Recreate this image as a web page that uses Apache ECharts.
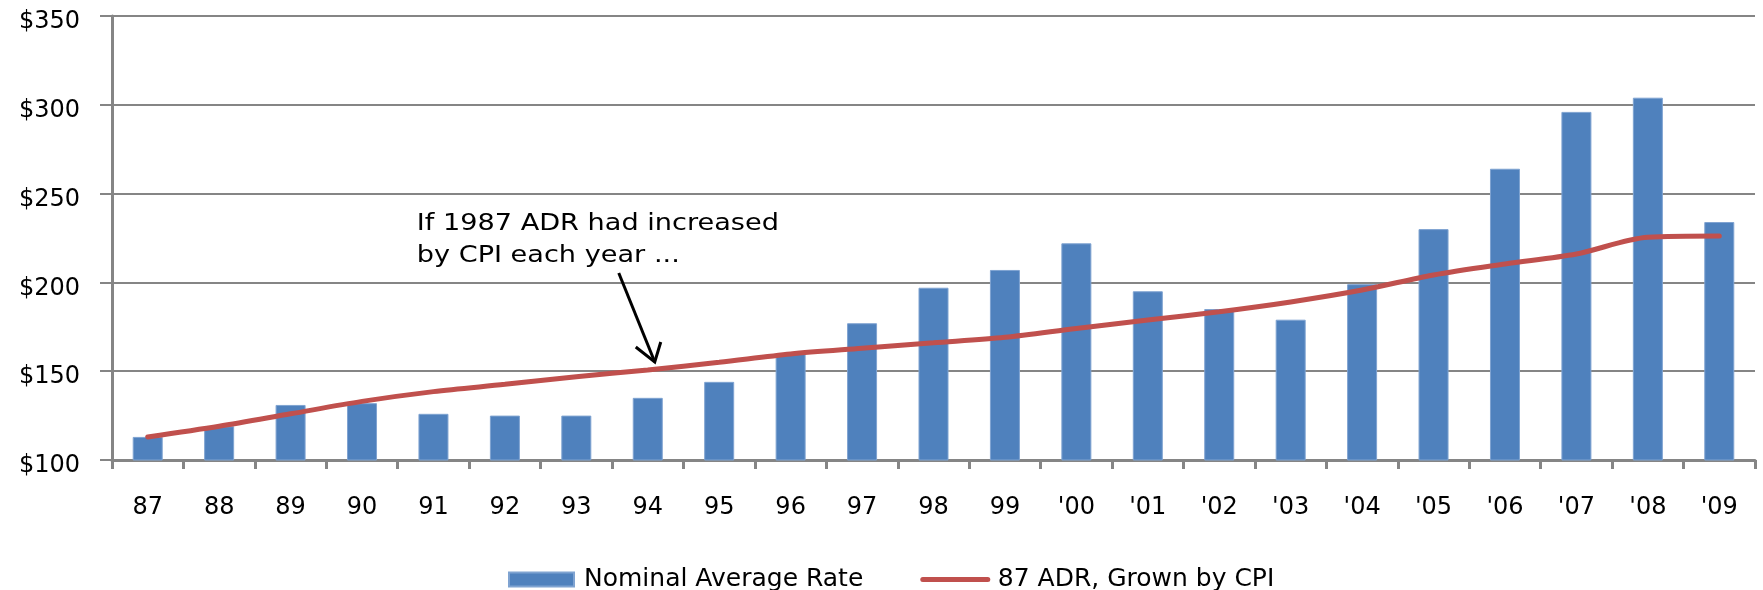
<!DOCTYPE html>
<html>
<head>
<meta charset="utf-8">
<title>Nominal Average Rate vs 87 ADR Grown by CPI</title>
<script src="https://cdn.jsdelivr.net/npm/echarts@6/dist/echarts.min.js"></script>
<style>
  html, body { margin: 0; padding: 0; background: #fff; }
  #chart { width: 1763px; height: 590px; }
</style>
</head>
<body>
<div id="chart"></div>
<script>
// Years on the category axis
const categories = ['87', '88', '89', '90', '91', '92', '93', '94', '95', '96', '97', '98', '99',
  "'00", "'01", "'02", "'03", "'04", "'05", "'06", "'07", "'08", "'09"];

// Nominal average daily rate, dollars
const nominalRate = [113, 119, 131, 132, 126, 125, 125, 135, 144, 160, 177, 197, 207,
  222, 195, 185, 179, 199, 230, 264, 296, 304, 234];

// 1987 ADR grown each year by CPI, dollars
const adrByCpi = [113, 119, 126, 133, 138.5, 142.6, 146.9, 150.7, 155, 159.7, 162.9, 166, 169.1,
  174.1, 178.8, 183.5, 189, 195.7, 204.2, 210.4, 216, 225.4, 226.1];

// Y axis range and step
const yMin = 100, yMax = 350, yStep = 50;

// Callout text and the year it points at
const calloutLines = ['If 1987 ADR had increased', 'by CPI each year ...'];
const calloutYear = '94';

const axisGrey = '#858585';
const font = 'DejaVu Sans';
const barBlue = '#4F81BD';
const lineRed = '#C0504D';

const chart = echarts.init(document.getElementById('chart'));

chart.setOption({
  animation: false,
  backgroundColor: '#ffffff',
  grid: { left: 112, right: 8, top: 16, bottom: 130, containLabel: false },
  legend: {
    left: 503,
    top: 562,
    itemWidth: 65,
    itemHeight: 14,
    itemGap: 57,
    textStyle: { fontFamily: font, fontSize: 25, color: '#000', padding: [0, 0, 0, 5] },
    data: [
      { name: 'Nominal Average Rate', icon: 'rect' },
      {
        name: '87 ADR, Grown by CPI',
        itemStyle: { opacity: 0 },
        lineStyle: { color: lineRed, width: 5, cap: 'round' }
      }
    ]
  },
  xAxis: {
    type: 'category',
    data: categories,
    boundaryGap: true,
    axisLine: { show: true, lineStyle: { color: axisGrey, width: 3 } },
    axisTick: { show: true, length: 9, lineStyle: { color: axisGrey, width: 3 } },
    axisLabel: { margin: 36, fontFamily: font, fontSize: 24, color: '#000' },
    splitLine: { show: false }
  },
  yAxis: {
    type: 'value',
    min: yMin,
    max: yMax,
    interval: yStep,
    axisLine: { show: true, lineStyle: { color: axisGrey, width: 3 } },
    axisTick: { show: true, length: 12, lineStyle: { color: axisGrey, width: 2 } },
    axisLabel: {
      margin: 32,
      fontFamily: font,
      fontSize: 24,
      color: '#000',
      verticalAlign: 'top',
      lineHeight: 12,
      formatter: v => '$' + v
    },
    splitLine: { show: true, lineStyle: { color: axisGrey, width: 2 } }
  },
  series: [
    {
      name: 'Nominal Average Rate',
      type: 'bar',
      data: nominalRate,
      barWidth: 30,
      itemStyle: { color: barBlue, borderColor: '#7FA3D1', borderWidth: 1 },
      z: 2
    },
    {
      name: '87 ADR, Grown by CPI',
      type: 'line',
      data: adrByCpi,
      smooth: 0.3,
      symbol: 'none',
      lineStyle: { color: lineRed, width: 5, cap: 'round' },
      itemStyle: { color: lineRed },
      z: 3
    }
  ]
});

// Callout: arrow tip sits just above the CPI line at the chosen year
const idx = categories.indexOf(calloutYear);
const anchor = chart.convertToPixel({ gridIndex: 0 }, [calloutYear, adrByCpi[idx]]);
const tip = [anchor[0] + 7, anchor[1] - 8];
const tail = [tip[0] - 36, tip[1] - 89];

chart.setOption({
  graphic: [
    {
      type: 'text',
      x: tip[0] - 238,
      y: tip[1] - 154,
      scaleX: 1.18,
      style: {
        text: calloutLines.join('\n'),
        fontFamily: font,
        fontSize: 23,
        lineHeight: 32,
        fill: '#000'
      },
      z: 10
    },
    {
      type: 'line',
      shape: { x1: tail[0], y1: tail[1], x2: tip[0], y2: tip[1] },
      style: { stroke: '#000', lineWidth: 3 },
      z: 10
    },
    {
      type: 'polyline',
      shape: { points: [[tip[0] - 19, tip[1] - 15], tip, [tip[0] + 6, tip[1] - 20]] },
      style: { stroke: '#000', lineWidth: 3, fill: null },
      z: 10
    }
  ]
});
</script>
</body>
</html>
